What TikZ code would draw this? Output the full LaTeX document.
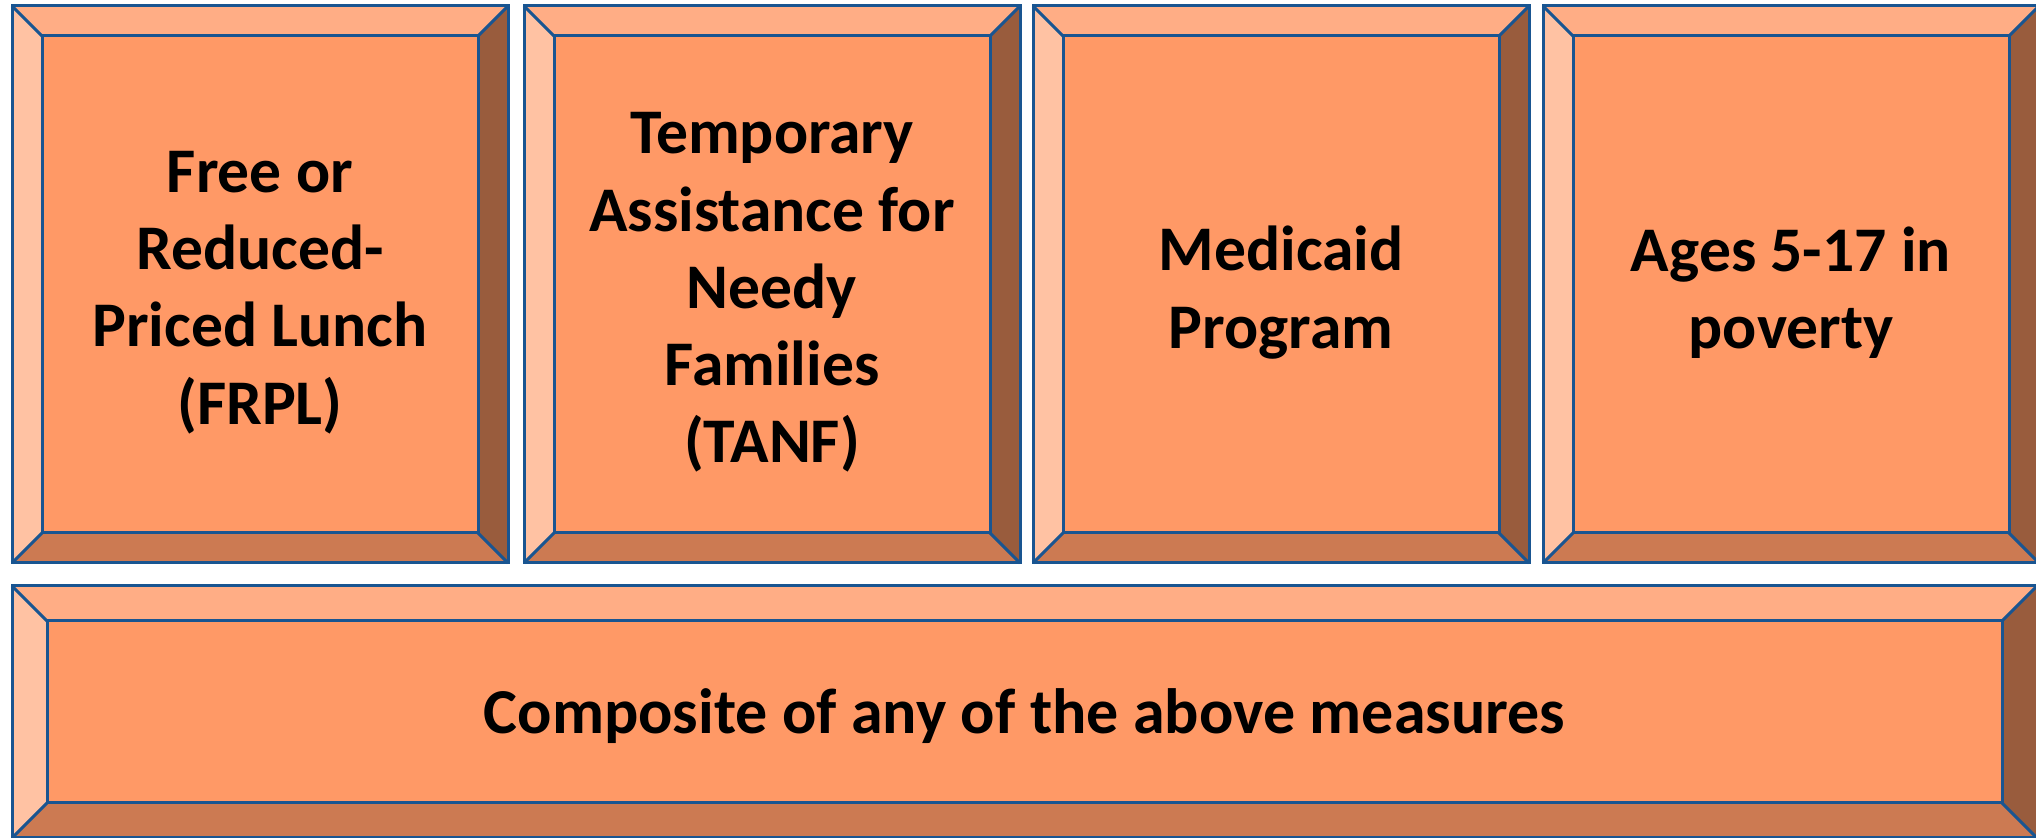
\documentclass[tikz,border=0pt]{standalone}
\usepackage{fontspec}
\setmainfont{Carlito}
\definecolor{cface}{RGB}{255,153,102}
\definecolor{ctop}{RGB}{255,173,133}
\definecolor{cleft}{RGB}{255,194,163}
\definecolor{cright}{RGB}{153,92,61}
\definecolor{cbottom}{RGB}{204,122,82}
\definecolor{cedge}{RGB}{25,85,145}
\tikzset{
  edge/.style={draw=cedge, line width=1.5pt, line join=miter},
  boxlabel/.style={font=\bfseries\fontsize{31.8}{38.6}\selectfont, align=center, text=black, inner sep=0pt}
}
% name, x1, y1, x2, y2, bevel, text, text y-shift
\newcommand\bevbox[8]{%
  \fill[ctop] (#2,#3) -- (#4,#3) -- (#4-#6,#3+#6) -- (#2+#6,#3+#6) -- cycle;
  \fill[cleft] (#2,#3) -- (#2+#6,#3+#6) -- (#2+#6,#5-#6) -- (#2,#5) -- cycle;
  \fill[cright] (#4,#3) -- (#4,#5) -- (#4-#6,#5-#6) -- (#4-#6,#3+#6) -- cycle;
  \fill[cbottom] (#2,#5) -- (#2+#6,#5-#6) -- (#4-#6,#5-#6) -- (#4,#5) -- cycle;
  \fill[cface] (#2+#6,#3+#6) rectangle (#4-#6,#5-#6);
  \draw[edge] (#2,#3) rectangle (#4,#5);
  \draw[edge] (#2+#6,#3+#6) rectangle (#4-#6,#5-#6);
  \draw[edge] (#2,#3) -- (#2+#6,#3+#6);
  \draw[edge] (#4,#3) -- (#4-#6,#3+#6);
  \draw[edge] (#2,#5) -- (#2+#6,#5-#6);
  \draw[edge] (#4,#5) -- (#4-#6,#5-#6);
  \node[boxlabel] (#1) at ({(#2+#4)/2},{(#3+#5)/2+#8}) {#7};
}
\begin{document}
\begin{tikzpicture}[x=0.5pt,y=-0.5pt]
\useasboundingbox (0,0) rectangle (2036,838);
\bevbox{frpl}{12}{6}{508}{563}{30}{Free or\\Reduced-\\Priced Lunch\\(FRPL)}{8}
\bevbox{tanf}{524}{6}{1020}{563}{30}{Temporary\\Assistance for\\Needy\\Families\\(TANF)}{8}
\bevbox{medicaid}{1033}{6}{1529}{563}{30}{Medicaid\\Program}{8}
\bevbox{poverty}{1543}{6}{2039}{563}{30}{Ages 5-17 in\\poverty}{8}
\bevbox{composite}{12}{586}{2037}{838}{35}{\fontsize{32.0}{38.6}\selectfont Composite of any of the above measures}{4}
\end{tikzpicture}
\end{document}
